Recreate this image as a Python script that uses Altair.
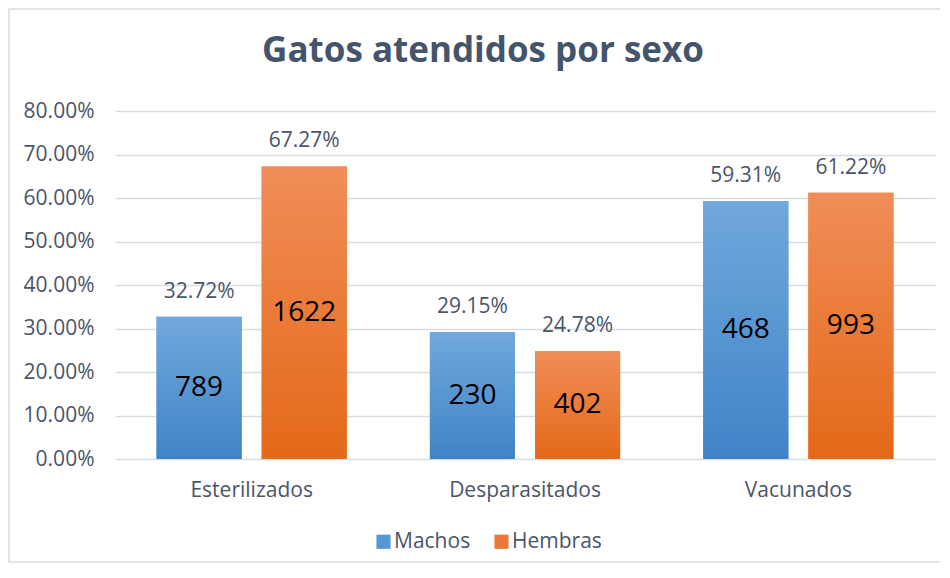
import altair as alt
import pandas as pd

categories = ["Esterilizados", "Desparasitados", "Vacunados"]
series = ["Machos", "Hembras"]
machos_pct = [0.3272, 0.2915, 0.5931]
hembras_pct = [0.6727, 0.2478, 0.6122]
machos_n = [789, 230, 468]
hembras_n = [1622, 402, 993]
y_ticks = [0, 0.1, 0.2, 0.3, 0.4, 0.5, 0.6, 0.7, 0.8]

rows = []
for c, p, n in zip(categories, machos_pct, machos_n):
    rows.append({"cat": c, "sexo": "Machos", "pct": p, "n": n})
for c, p, n in zip(categories, hembras_pct, hembras_n):
    rows.append({"cat": c, "sexo": "Hembras", "pct": p, "n": n})
df = pd.DataFrame(rows)

FONT = "Open Sans"
TXT = "#4A5568"
GRID = "#D9DDE3"

x_enc = alt.X("cat:N", sort=categories, title=None,
              scale=alt.Scale(paddingInner=0.304, paddingOuter=0.152),
              axis=alt.Axis(labelAngle=0, ticks=False, domain=False, labelPadding=20,
                            labelFontSize=21, labelColor=TXT, labelFont=FONT))
xo_enc = alt.XOffset("sexo:N", sort=series,
                     scale=alt.Scale(domain=series, paddingInner=0.19, paddingOuter=0))
y_enc = alt.Y("pct:Q", title=None,
              scale=alt.Scale(domain=[0, 0.8], nice=False),
              axis=alt.Axis(values=y_ticks, format=".2%", ticks=False, domain=False,
                            labelPadding=21, labelFontSize=21, labelColor=TXT,
                            labelFont=FONT, gridColor=GRID, gridWidth=1.3))

base = alt.Chart(df)

frame = alt.Chart(pd.DataFrame({"k": [0]})).mark_rect(
    fillOpacity=0, stroke="#D9DEE4", strokeWidth=1.5
).encode(x=alt.value(-106), x2=alt.value(827), y=alt.value(-102), y2=alt.value(451))

bars = base.mark_bar().encode(
    x=x_enc, xOffset=xo_enc, y=y_enc,
    color=alt.Color("sexo:N", sort=series,
                    scale=alt.Scale(domain=series, range=["#5597D3", "#EC7A36"]),
                    legend=alt.Legend(title=None, orient="none", direction="horizontal",
                                      legendX=258, legendY=420, symbolType="square",
                                      symbolSize=200, symbolStrokeWidth=0,
                                      labelFontSize=21, labelColor=TXT, labelFont=FONT,
                                      columnPadding=20, symbolOffset=0, labelOffset=0)),
)

blue_grad = alt.Gradient(gradient="linear", x1=0, x2=0, y1=0, y2=1,
                         stops=[alt.GradientStop(color="#71A8DD", offset=0),
                                alt.GradientStop(color="#4084C6", offset=1)])
orange_grad = alt.Gradient(gradient="linear", x1=0, x2=0, y1=0, y2=1,
                           stops=[alt.GradientStop(color="#F08D58", offset=0),
                                  alt.GradientStop(color="#E46918", offset=1)])

bars_m = base.transform_filter(alt.datum.sexo == "Machos").mark_bar(color=blue_grad).encode(
    x=x_enc, xOffset=xo_enc, y=y_enc)
bars_h = base.transform_filter(alt.datum.sexo == "Hembras").mark_bar(color=orange_grad).encode(
    x=x_enc, xOffset=xo_enc, y=y_enc)

pct_labels = base.mark_text(dy=-25, fontSize=21, color=TXT, font=FONT).encode(
    x=x_enc, xOffset=xo_enc, y=y_enc,
    text=alt.Text("pct:Q", format=".2%"))

n_labels = base.transform_calculate(mid="datum.pct / 2").mark_text(
    fontSize=28, color="#000000", font=FONT).encode(
    x=x_enc, xOffset=xo_enc, y=alt.Y("mid:Q"),
    text=alt.Text("n:Q"))

chart = alt.layer(frame, bars, bars_m, bars_h, pct_labels, n_labels).properties(
    width=820, height=348,
    autosize=alt.AutoSizeParams(type="none"),
    padding={"left": 107, "top": 103, "right": 5, "bottom": 105},
    title=alt.TitleParams("Gatos atendidos por sexo", fontSize=35, font=FONT,
                          fontWeight="bold", color="#44546A", anchor="middle",
                          dx=-42, offset=-61),
).configure_view(stroke=None).configure_axis(labelFont=FONT)

chart.save("out.html", embed_options={"renderer": "svg", "actions": False})
